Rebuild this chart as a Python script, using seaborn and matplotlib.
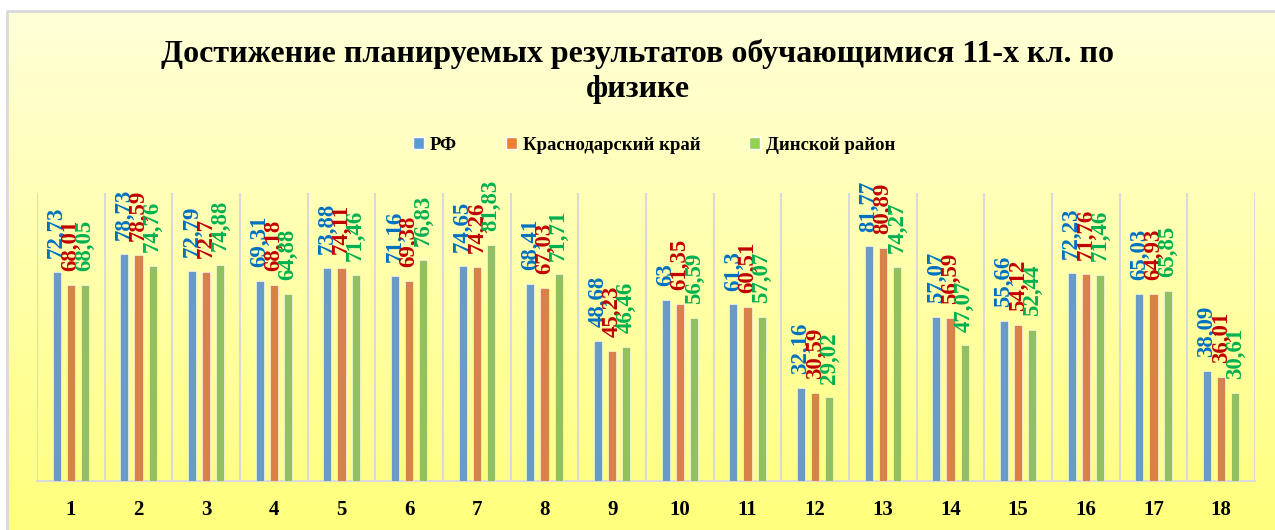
import numpy as np
import pandas as pd
import matplotlib
matplotlib.use("Agg")
import matplotlib.pyplot as plt
import seaborn as sns
from matplotlib.patches import Patch
from matplotlib.lines import Line2D

# ==========================================
# DADOS
# ==========================================
nomera = [str(i) for i in range(1, 19)]
serii = ['РФ', 'Краснодарский край', 'Динской район']

rf = [72.73, 78.73, 72.79, 69.31, 73.88, 71.16, 74.65, 68.41, 48.68,
      63, 61.3, 32.16, 81.77, 57.07, 55.66, 72.23, 65.03, 38.09]
kraj = [68.01, 78.59, 72.7, 68.18, 74.11, 69.38, 74.26, 67.03, 45.23,
        61.35, 60.51, 30.59, 80.89, 56.59, 54.12, 71.76, 64.93, 36.01]
rajon = [68.05, 74.76, 74.88, 64.88, 71.46, 76.83, 81.83, 71.71, 46.46,
         56.59, 57.07, 29.02, 74.27, 47.07, 52.44, 71.46, 65.85, 30.61]

titulo_1 = 'Достижение планируемых результатов обучающимися 11-х кл. по'
titulo_2 = 'физике'

cores_barras = ['#5B9BD5', '#ED7D31', '#92D050']
cores_rotulos = ['#0070C0', '#C00000', '#00B050']

df = pd.DataFrame({
    'Номер': nomera * 3,
    'Территория': [s for s in serii for _ in nomera],
    'Значение': rf + kraj + rajon,
})

# ==========================================
# FIGURA
# ==========================================
sns.set_theme(style="white")
plt.rcParams['font.family'] = ['Liberation Serif', 'DejaVu Serif']
plt.rcParams['text.color'] = 'black'
plt.rcParams['xtick.color'] = 'black'

W, H = 1275, 530
fig = plt.figure(figsize=(W / 100, H / 100), dpi=100, facecolor='white')

# fundo em degradê amarelo
bg = fig.add_axes([7 / W, 0, (W - 7) / W, (H - 11) / H])
top = np.array([255, 255, 216]) / 255
bot = np.array([255, 255, 124]) / 255
t = np.linspace(0, 1, 256)[:, None]
grad = (top[None, :] * (1 - t) + bot[None, :] * t)[:, None, :]
bg.imshow(grad, aspect='auto', extent=[0, 1, 0, 1])
bg.set_axis_off()
# borda só em cima e à esquerda (o resto está cortado)
x0, y1 = 7 / W, 1 - 11 / H
fig.add_artist(Line2D([x0, x0, 1], [0, y1, y1], transform=fig.transFigure,
                      color='#D9D9D9', linewidth=2))

ax = fig.add_axes([37 / W, 1 - 481 / H, (1255 - 37) / W, (481 - 193) / H])
ax.set_facecolor('none')

sns.barplot(data=df, x='Номер', y='Значение', hue='Территория', hue_order=serii,
            palette=cores_barras, width=0.63, gap=0.43, ax=ax, legend=False,
            edgecolor='#FFFFFF', linewidth=0.4, zorder=3)

for cont, cor in zip(ax.containers, cores_rotulos):
    rotulos = [f"{b.get_height():g}".replace('.', ',') for b in cont]
    ax.bar_label(cont, labels=rotulos, rotation=90, padding=10, color=cor,
                 fontsize=16.5, fontweight='bold')

ax.set_ylim(0, 100)
ax.set_xlim(-0.5, 17.5)
for xv in np.arange(-0.5, 18, 1):
    ax.axvline(xv, color='#D9D9D9', linewidth=1.5, zorder=1)
for s in ['top', 'right', 'left']:
    ax.spines[s].set_visible(False)
ax.spines['bottom'].set_color('#D9D9D9')
ax.spines['bottom'].set_linewidth(1.5)
ax.set_yticks([])
ax.set_xlabel('')
ax.set_ylabel('')
ax.tick_params(axis='x', length=0, pad=14, labelcolor='black')
for lbl in ax.get_xticklabels():
    lbl.set_fontsize(15)
    lbl.set_fontweight('bold')

fig.text(0.5, 1 - 62 / H, titulo_1, ha='center', va='baseline', fontsize=23,
         fontweight='bold', color='black')
fig.text(0.5, 1 - 97 / H, titulo_2, ha='center', va='baseline', fontsize=23,
         fontweight='bold', color='black')

handles = [Patch(facecolor=c, label=s) for c, s in zip(cores_barras, serii)]
leg = fig.legend(handles=handles, loc='center', bbox_to_anchor=(0.513, 1 - 145 / H), ncol=3,
                 frameon=False, prop={'weight': 'bold', 'size': 13.5}, handlelength=0.6,
                 handleheight=0.6, handletextpad=0.3, columnspacing=2.6)
for txt in leg.get_texts():
    txt.set_color('black')

fig.savefig('out.png', dpi=100)
